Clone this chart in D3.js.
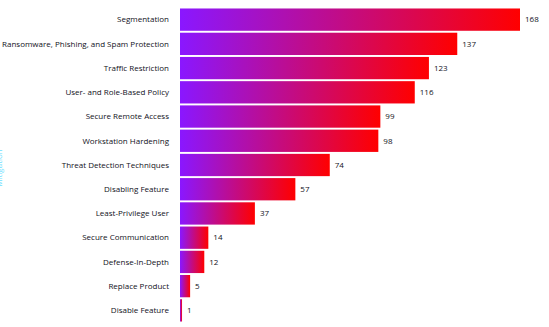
<!DOCTYPE html>
<html>
<head>
<meta charset="utf-8">
<script src="https://cdn.jsdelivr.net/npm/d3@7"></script>
<style>
  html, body { margin: 0; padding: 0; background: #fff; }
  svg { display: block; }
  text { font-family: "Open Sans", "Noto Sans", sans-serif; }
</style>
</head>
<body>
<svg id="chart" width="549" height="327"></svg>
<script>
const categories = [
  "Segmentation",
  "Ransomware, Phishing, and Spam Protection",
  "Traffic Restriction",
  "User- and Role-Based Policy",
  "Secure Remote Access",
  "Workstation Hardening",
  "Threat Detection Techniques",
  "Disabling Feature",
  "Least-Privilege User",
  "Secure Communication",
  "Defense-In-Depth",
  "Replace Product",
  "Disable Feature"
];
const counts = [168, 137, 123, 116, 99, 98, 74, 57, 37, 14, 12, 5, 1];

const svg = d3.select("#chart");
const plot = { left: 180, right: 520, top: 8, bottom: 322 };

const x = d3.scaleLinear().domain([0, 168]).range([plot.left, plot.right]);
const y = d3.scaleBand().domain(categories).range([plot.top, plot.bottom]).paddingInner(0.08).paddingOuter(0.02);

// shared left-to-right gradient, stretched over each bar
const grad = svg.append("defs").append("linearGradient")
  .attr("id", "barGrad")
  .attr("x1", "0%").attr("x2", "100%").attr("y1", "0%").attr("y2", "0%");
grad.append("stop").attr("offset", "0%").attr("stop-color", "#8a17ff");
grad.append("stop").attr("offset", "100%").attr("stop-color", "#ff0000");

const rows = categories.map((c, i) => ({ name: c, value: counts[i] }));

svg.append("g").selectAll("rect").data(rows).join("rect")
  .attr("x", x(0))
  .attr("y", d => y(d.name))
  .attr("width", d => x(d.value) - x(0))
  .attr("height", y.bandwidth())
  .attr("fill", "url(#barGrad)");

svg.append("g").selectAll("text").data(rows).join("text")
  .attr("x", x(0) - 11)
  .attr("y", d => y(d.name) + y.bandwidth() / 2)
  .attr("dy", "0.35em")
  .attr("text-anchor", "end")
  .attr("font-size", 8)
  .attr("fill", "#111122")
  .text(d => d.name);

svg.append("g").selectAll("text").data(rows).join("text")
  .attr("x", d => x(d.value) + 5)
  .attr("y", d => y(d.name) + y.bandwidth() / 2)
  .attr("dy", "0.35em")
  .attr("font-size", 8)
  .attr("fill", "#111122")
  .text(d => d.value);

// axis title, pushed against the left edge
svg.append("text")
  .attr("transform", "translate(1.5,168) rotate(-90)")
  .attr("text-anchor", "middle")
  .attr("font-size", 8)
  .attr("fill", "#6fe0ff")
  .text("Mitigation");
</script>
</body>
</html>
